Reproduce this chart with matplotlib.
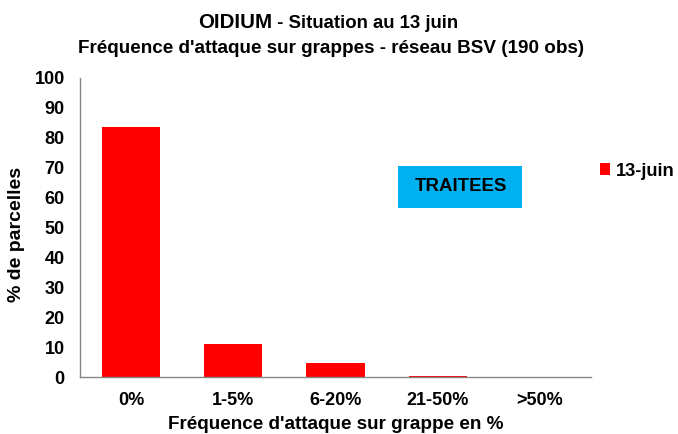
import matplotlib
matplotlib.use('Agg')
import matplotlib.pyplot as plt
from matplotlib.patches import Rectangle

categories = ['0%', '1-5%', '6-20%', '21-50%', '>50%']
values = [83.6, 11.0, 4.7, 0.5, 0.0]
series_name = '13-juin'
yticks = [0, 10, 20, 30, 40, 50, 60, 70, 80, 90, 100]

plt.rcParams['font.family'] = ['Liberation Sans', 'DejaVu Sans']

W, H = 678, 434
fig = plt.figure(figsize=(W / 100, H / 100), dpi=100)
ax = fig.add_axes([80 / W, 1 - 377 / H, (591 - 80) / W, (377 - 78) / H])

x = range(len(categories))
ax.bar(x, values, width=0.57, color='#FF0000', label=series_name, zorder=2)
ax.set_xlim(-0.5, len(categories) - 0.5)
ax.set_ylim(0, 100)
ax.set_yticks(yticks)
ax.set_xticks(list(x))
ax.set_xticklabels(categories, fontsize=13, fontweight='bold')
ax.set_yticklabels([str(t) for t in yticks], fontsize=13, fontweight='bold')
ax.tick_params(length=0)
ax.tick_params(axis='x', pad=11)
ax.tick_params(axis='y', pad=11)
for s in ['top', 'right']:
    ax.spines[s].set_visible(False)
for s in ['left', 'bottom']:
    ax.spines[s].set_color('#868686')
    ax.spines[s].set_linewidth(1.0)

# titres des axes
fig.text(17 / W, 1 - 234 / H, '% de parcelles', rotation=90, ha='center', va='center',
         fontsize=14, fontweight='bold')
fig.text(336 / W, 1 - 429 / H, "Fréquence d'attaque sur grappe en %", ha='center',
         va='baseline', fontsize=13.6, fontweight='bold')

# titre
fig.text(272 / W, 1 - 28 / H, 'OIDIUM', ha='right', va='baseline',
         fontsize=14.8, fontweight='bold')
fig.text(272 / W, 1 - 28 / H, ' - Situation au 13 juin', ha='left', va='baseline',
         fontsize=13.4, fontweight='bold')
fig.text(331 / W, 1 - 53 / H, "Fréquence d'attaque sur grappes - réseau BSV (190 obs)",
         ha='center', va='baseline', fontsize=13.6, fontweight='bold')

# encadre TRAITEES
fig.patches.append(Rectangle((398 / W, 1 - 208 / H), 124 / W, 42 / H,
                             transform=fig.transFigure, facecolor='#00B0F0',
                             edgecolor='none'))
fig.text(461 / W, 1 - 187 / H, 'TRAITEES', ha='center', va='center',
         fontsize=13.4, fontweight='bold')

fig.legend(loc='center left', bbox_to_anchor=(600 / W, 1 - 171 / H), frameon=False,
           prop={'size': 13.2, 'weight': 'bold'}, handlelength=0.55, handleheight=0.55,
           handletextpad=0.3, borderpad=0, borderaxespad=0)

fig.savefig('out.png', dpi=100)
